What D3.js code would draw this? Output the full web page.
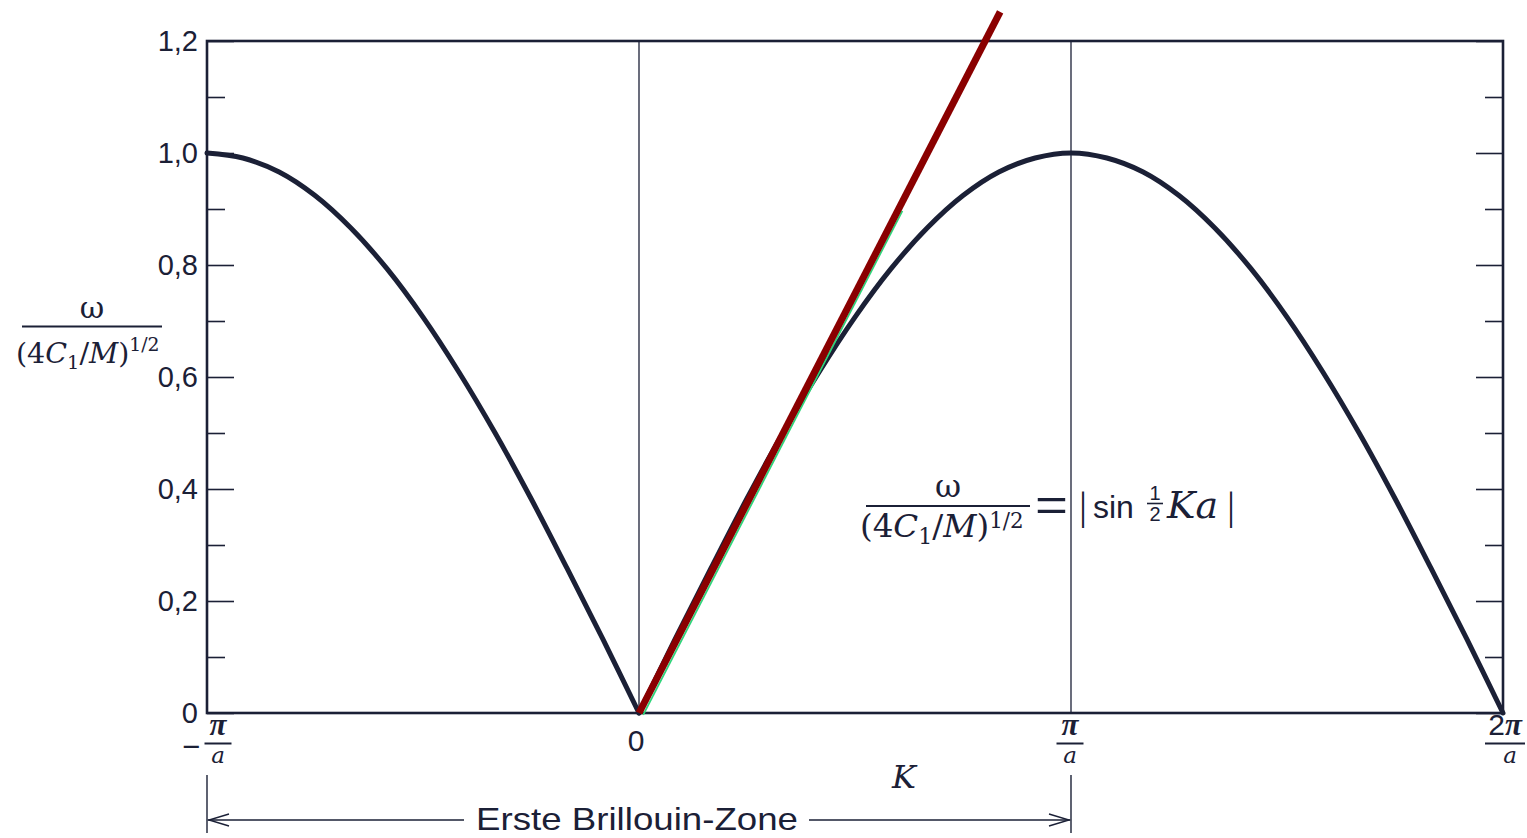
<!DOCTYPE html>
<html>
<head>
<meta charset="utf-8">
<script src="https://cdn.jsdelivr.net/npm/d3@7"></script>
<style>
  html, body { margin: 0; padding: 0; background: #ffffff; }
  svg { display: block; }
</style>
</head>
<body>
<svg id="chart" width="1527" height="838"></svg>
<script>
// Wave vector K, in units of π/a (first zone plus half of the next one)
const kLeft  = [-1, -0.917, -0.833, -0.75, -0.667, -0.583, -0.5, -0.417, -0.333, -0.25, -0.167, -0.083, 0];
const wLeft  = [1.0, 0.991, 0.966, 0.924, 0.866, 0.793, 0.707, 0.609, 0.5, 0.383, 0.259, 0.131, 0];
const kRight = [0, 0.083, 0.167, 0.25, 0.333, 0.417, 0.5, 0.583, 0.667, 0.75, 0.833, 0.917, 1,
                1.083, 1.167, 1.25, 1.333, 1.417, 1.5, 1.583, 1.667, 1.75, 1.833, 1.917, 2];
const wRight = [0, 0.131, 0.259, 0.383, 0.5, 0.609, 0.707, 0.793, 0.866, 0.924, 0.966, 0.991, 1.0,
                0.991, 0.966, 0.924, 0.866, 0.793, 0.707, 0.609, 0.5, 0.383, 0.259, 0.131, 0];

// Long-wavelength (sound) line through the origin
const tangentK = [0, 0.836];
const tangentW = [0, 1.252];
const guideK = [0, 0.6];
const guideW = [0, 0.9];

const yMajorTicks = [0, 0.2, 0.4, 0.6, 0.8, 1.0, 1.2];
const yTickLabels = ["0", "0,2", "0,4", "0,6", "0,8", "1,0", "1,2"];
const yMinorTicks = [0.1, 0.3, 0.5, 0.7, 0.9, 1.1];
const xGridK = [0, 1];
const zoneK = [-1, 1];
const zoneLabel = "Erste Brillouin-Zone";

const ink = "#1b2036";
const sans = "'Liberation Sans', Arial, sans-serif";
const serif = "'DejaVu Serif', 'Liberation Serif', serif";
const tserif = "'Liberation Serif', 'DejaVu Serif', serif";

const svg = d3.select("#chart");
const x = d3.scaleLinear().domain([-1, 2]).range([207, 1503]);
const y = d3.scaleLinear().domain([0, 1.2]).range([713, 41]);

// Frame
svg.append("rect")
  .attr("x", x(-1)).attr("y", y(1.2))
  .attr("width", x(2) - x(-1)).attr("height", y(0) - y(1.2))
  .attr("fill", "none").attr("stroke", ink).attr("stroke-width", 2.6);

// Vertical guides at K = 0 and K = π/a
svg.append("g").selectAll("line").data(xGridK).join("line")
  .attr("x1", d => x(d)).attr("x2", d => x(d))
  .attr("y1", y(0)).attr("y2", y(1.2))
  .attr("stroke", ink).attr("stroke-width", 1.3);

// Inward ticks on both vertical sides
function styleAxis(g) {
  g.select(".domain").remove();
  g.selectAll(".tick line").attr("stroke", ink).attr("stroke-width", 1.6);
  g.selectAll(".tick text").attr("fill", ink).attr("font-family", sans).attr("font-size", 29);
}
svg.append("g").attr("transform", `translate(${x(-1)},0)`)
  .call(d3.axisLeft(y).tickValues(yMajorTicks).tickSizeInner(-27).tickSizeOuter(0)
    .tickPadding(9).tickFormat((d, i) => yTickLabels[i]))
  .call(styleAxis);
svg.append("g").attr("transform", `translate(${x(-1)},0)`)
  .call(d3.axisLeft(y).tickValues(yMinorTicks).tickSizeInner(-18).tickSizeOuter(0).tickFormat(""))
  .call(styleAxis);
svg.append("g").attr("transform", `translate(${x(2)},0)`)
  .call(d3.axisRight(y).tickValues(yMajorTicks).tickSizeInner(-27).tickSizeOuter(0).tickFormat(""))
  .call(styleAxis);
svg.append("g").attr("transform", `translate(${x(2)},0)`)
  .call(d3.axisRight(y).tickValues(yMinorTicks).tickSizeInner(-18).tickSizeOuter(0).tickFormat(""))
  .call(styleAxis);

// Dispersion curve, two smooth branches meeting in the cusp at K = 0
const line = d3.line().x(d => x(d[0])).y(d => y(d[1])).curve(d3.curveCatmullRom);
[[kLeft, wLeft], [kRight, wRight]].forEach(([ks, ws]) => {
  svg.append("path")
    .attr("d", line(ks.map((k, i) => [k, ws[i]])))
    .attr("fill", "none").attr("stroke", ink).attr("stroke-width", 5)
    .attr("stroke-linejoin", "round").attr("stroke-linecap", "round");
});

// Straight line through the origin
const straight = d3.line().x(d => x(d[0])).y(d => y(d[1]));
svg.append("path")
  .attr("d", straight(guideK.map((k, i) => [k, guideW[i]])))
  .attr("transform", "translate(4.2,1.8)")
  .attr("fill", "none").attr("stroke", "#2fd47a").attr("stroke-width", 1.8);
svg.append("path")
  .attr("d", straight(tangentK.map((k, i) => [k, tangentW[i]])))
  .attr("fill", "none").attr("stroke", "#8a0000").attr("stroke-width", 7)
  .attr("stroke-linecap", "butt");

// X labels: fractions of π/a
function piOverA(cx, prefix, numPrefix) {
  const g = svg.append("g").attr("fill", ink);
  const num = g.append("text").attr("x", cx).attr("y", 735).attr("text-anchor", "middle")
    .attr("font-family", tserif).attr("font-style", "italic").attr("font-weight", "bold")
    .attr("font-size", 31);
  if (numPrefix) num.append("tspan").attr("font-family", sans).attr("font-style", "normal")
    .attr("font-weight", "normal").attr("font-size", 30).text(numPrefix);
  num.append("tspan").text("π");
  const w = numPrefix ? 40 : 27;
  g.append("line").attr("x1", cx - w / 2).attr("x2", cx + w / 2)
    .attr("y1", 743.5).attr("y2", 743.5).attr("stroke", ink).attr("stroke-width", 2);
  g.append("text").attr("x", cx + (numPrefix ? 5 : 0)).attr("y", 763).attr("text-anchor", "middle")
    .attr("font-family", serif).attr("font-style", "italic").attr("font-size", 23).text("a");
  if (prefix) {
    g.append("text").attr("x", cx - 18).attr("y", 757).attr("text-anchor", "end")
      .attr("font-family", sans).attr("font-size", 31).text(prefix);
  }
}
piOverA(x(-1) + 11, "−");
piOverA(x(1) - 1, null);
piOverA(x(2) + 2, null, "2");

svg.append("text").attr("x", x(0) - 3).attr("y", 751).attr("text-anchor", "middle")
  .attr("fill", ink).attr("font-family", sans).attr("font-size", 30).text("0");

// Axis title K
svg.append("text").attr("x", 904).attr("y", 788).attr("text-anchor", "middle")
  .attr("fill", ink).attr("font-family", serif).attr("font-style", "italic").attr("font-size", 32).text("K");

// Normalised frequency fraction ω / (4C₁/M)^{1/2}
function omegaFraction(x0, x1, numBase, barY, denBase, size, omegaSize, supRise) {
  const g = svg.append("g").attr("fill", ink).attr("font-family", serif);
  g.append("text").attr("x", (x0 + x1) / 2).attr("y", numBase).attr("text-anchor", "middle")
    .attr("font-size", omegaSize).text("ω");
  g.append("line").attr("x1", x0).attr("x2", x1).attr("y1", barY).attr("y2", barY)
    .attr("stroke", ink).attr("stroke-width", 2);
  const den = g.append("text").attr("x", x0 - 6).attr("y", denBase).attr("font-size", size);
  den.append("tspan").text("(4");
  den.append("tspan").attr("font-style", "italic").text("C");
  den.append("tspan").attr("font-size", size * 0.68).attr("dy", size * 0.2).text("1");
  den.append("tspan").attr("dy", -size * 0.2).text("/");
  den.append("tspan").attr("font-style", "italic").text("M");
  den.append("tspan").text(")");
  den.append("tspan").attr("font-size", size * 0.66).attr("dy", -supRise).text("1/2");
  return g;
}
omegaFraction(22, 162, 318, 326.5, 363, 28.5, 30, 12);
omegaFraction(866, 1030, 497, 506, 537, 32.5, 32, 9);

// Right-hand side of the annotation: = |sin ½ Ka|
const rhs = svg.append("g").attr("fill", ink);
rhs.append("text").attr("x", 1035).attr("y", 521).attr("font-family", sans).attr("font-size", 46)
  .attr("textLength", 33).attr("lengthAdjust", "spacingAndGlyphs").text("=");
rhs.append("text").attr("x", 1079).attr("y", 519).attr("font-family", tserif).attr("font-size", 40).text("|");
rhs.append("text").attr("x", 1093).attr("y", 518).attr("font-family", sans).attr("font-size", 32).text("sin");
rhs.append("text").attr("x", 1155).attr("y", 500).attr("text-anchor", "middle")
  .attr("font-family", sans).attr("font-size", 20).text("1");
rhs.append("line").attr("x1", 1147).attr("x2", 1163).attr("y1", 503.5).attr("y2", 503.5)
  .attr("stroke", ink).attr("stroke-width", 1.6);
rhs.append("text").attr("x", 1155).attr("y", 521).attr("text-anchor", "middle")
  .attr("font-family", sans).attr("font-size", 20).text("2");
rhs.append("text").attr("x", 1167).attr("y", 518).attr("font-family", serif)
  .attr("font-style", "italic").attr("font-size", 38).text("Ka");
rhs.append("text").attr("x", 1227).attr("y", 519).attr("font-family", tserif).attr("font-size", 40).text("|");

// First Brillouin zone bracket
const zone = svg.append("g").attr("stroke", ink).attr("fill", "none").attr("stroke-width", 1.4);
zone.selectAll("line.edge").data(zoneK).join("line").attr("class", "edge")
  .attr("x1", d => x(d)).attr("x2", d => x(d)).attr("y1", 775).attr("y2", 833);
const arrowY = 820;
const textX0 = 476, textX1 = 798;
zone.append("line").attr("x1", x(zoneK[0]) + 1).attr("x2", textX0 - 12).attr("y1", arrowY).attr("y2", arrowY);
zone.append("line").attr("x1", textX1 + 11).attr("x2", x(zoneK[1]) - 1).attr("y1", arrowY).attr("y2", arrowY);
zone.append("path").attr("d", `M${x(zoneK[0]) + 22},${arrowY - 6} L${x(zoneK[0]) + 2},${arrowY} L${x(zoneK[0]) + 22},${arrowY + 6}`);
zone.append("path").attr("d", `M${x(zoneK[1]) - 22},${arrowY - 6} L${x(zoneK[1]) - 2},${arrowY} L${x(zoneK[1]) - 22},${arrowY + 6}`);
svg.append("text").attr("x", textX0).attr("y", 830).attr("fill", ink)
  .attr("font-family", sans).attr("font-size", 32)
  .attr("textLength", textX1 - textX0).attr("lengthAdjust", "spacingAndGlyphs")
  .text(zoneLabel);
</script>
</body>
</html>
